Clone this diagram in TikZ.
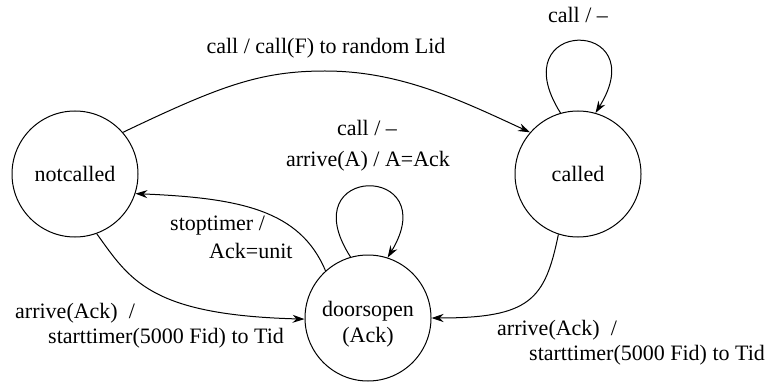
\documentclass[tikz,border=0pt]{standalone}
\usepackage{fontspec}
\setmainfont{Liberation Serif}
\usetikzlibrary{arrows.meta}
\begin{document}
\begin{tikzpicture}[x=1pt,y=-1pt,
  state/.style={draw,circle,minimum size=126pt,inner sep=0pt,line width=1pt,align=center,font=\fontsize{22}{26}\selectfont},
  lbl/.style={font=\fontsize{22}{26}\selectfont,inner sep=0pt},
  arr/.style={line width=1pt,-{Stealth[length=12pt,width=8pt,inset=4pt]}}]
\useasboundingbox (0,0) rectangle (773,382);
\node[state] (nc) at (75,174) {notcalled};
\node[state] (cd) at (578,174) {called};
\node[state] (do) at (368,318) {};
\node[lbl,align=center,anchor=base] (dotext) at (368,342) {doorsopen\\(Ack)};

\draw[arr] (nc.41.8) .. controls (220,86) and (260,71) .. (325,71) .. controls (400,71) and (460,100) .. (cd.139.3);
\draw[arr] (cd.106.7) .. controls (500,17) and (655,17) .. (cd.74.4);
\draw[arr] (do.106.7) .. controls (290,163) and (445,163) .. (do.72);
\draw[arr] (do.132.5) .. controls (300,210) and (240,198) .. (nc.-18.4);
\draw[arr] (nc.-70.2) .. controls (130,280) and (150,315) .. (do.181);
\draw[arr] (cd.-108.4) .. controls (545,300) and (530,318) .. (do.0);

\node[lbl,anchor=base] (t1) at (326,54) {call / call(F) to random Lid};
\node[lbl,anchor=base] (t2) at (578,23) {call / –};
\node[lbl,anchor=base] (t3) at (367,136) {call / –};
\node[lbl,anchor=base] (t4) at (368,167) {arrive(A) / A=Ack};
\node[lbl,anchor=base west] (t5) at (170,230) {stoptimer /};
\node[lbl,anchor=base west] (t6) at (209,258) {Ack=unit};
\node[lbl,anchor=base west] (t7) at (15,318) {arrive(Ack) \ /};
\node[lbl,anchor=base west] (t8) at (48,343) {starttimer(5000 Fid) to Tid};
\node[lbl,anchor=base west] (t9) at (497,335) {arrive(Ack) \ /};
\node[lbl,anchor=base west] (t10) at (529,360) {starttimer(5000 Fid) to Tid};
\end{tikzpicture}
\end{document}
